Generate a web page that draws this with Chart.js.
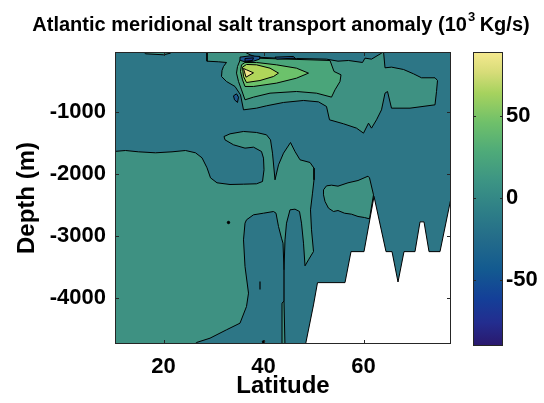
<!DOCTYPE html>
<html>
<head>
<meta charset="utf-8">
<script src="https://cdn.jsdelivr.net/npm/chart.js@4.4.1/dist/chart.umd.min.js"></script>
<style>
  html, body { margin: 0; padding: 0; background: #ffffff; }
  #wrap { width: 544px; height: 403px; position: relative; }
</style>
</head>
<body>
<div id="wrap"><canvas id="c" width="544" height="403"></canvas></div>
<script>
// ---------- axes / colour scale ----------
const latRange = [10.3, 77.5];
const depthRange = [-4750, -40];
const latTicks = [20, 40, 60];
const depthTicks = [-4000, -3000, -2000, -1000];
const cbRange = [-89, 89];
const cbTicks = [-50, 0, 50];

// contour levels (lower bound of each filled band) and their fill colours
const levels = [-60, -40, -20, 0, 20, 40, 60, 80];
const levelColors = ['#1d3a85', '#1f5a90', '#2d7686', '#3e9182', '#4aa57a', '#6cc26b', '#b0d65a', '#f2e48c'];

// ---------- contour regions: [latitude, depth] ----------
const bathymetry = [[48.3,-4800],[50.0,-4120],[50.8,-3760],[56.3,-3760],[57.5,-3260],[60.1,-3260],[62.1,-2370],[64.5,-3260],[65.7,-3260],[66.9,-3750],[68.1,-3260],[70.3,-3260],[71.3,-2780],[72.1,-2780],[73.1,-3260],[75.3,-3260],[78,-2200],[78,-4800]];

const deepBand0 = [[10,-1645],[12.4,-1629],[15.0,-1650],[18.4,-1666],[21.7,-1650],[24.4,-1629],[26.4,-1666],[27.7,-1747],[28.7,-1908],[29.4,-2070],[30.7,-2150],[33.3,-2177],[36.0,-2172],[38.6,-2166],[39.8,-2129],[40.1,-1940],[40.0,-1752],[39.6,-1645],[38.0,-1575],[36.3,-1591],[34.0,-1537],[32.3,-1457],[32.1,-1403],[33.3,-1360],[36.0,-1322],[38.6,-1338],[40.6,-1376],[41.4,-1457],[41.8,-1672],[42.3,-2102],[43.0,-1860],[44.0,-1672],[45.4,-1500],[46.3,-1645],[47.3,-1779],[49.3,-1822],[50.1,-1914],[50.1,-2102],[49.8,-2317],[49.4,-2586],[49.6,-2908],[50.0,-3258],[49.0,-3392],[48.3,-3489],[48.0,-3124],[47.6,-2801],[47.2,-2613],[46.3,-2575],[45.3,-2586],[44.6,-2801],[44.3,-3070],[44.1,-3554],[43.9,-3124],[43.6,-3043],[43.0,-2855],[42.5,-2640],[42.0,-2613],[40.0,-2640],[38.0,-2666],[36.6,-2747],[36.3,-2801],[36.0,-3070],[36.3,-3500],[37.0,-3930],[36.6,-4145],[35.3,-4414],[32.6,-4521],[29.3,-4656],[26.6,-4726],[25.6,-4800],[10,-4800]];

const bottomStrip0 = [[43.7,-4090],[44.1,-4060],[44.3,-4800],[43.7,-4800]];

const midIsland0 = [[52.0,-2263],[52.6,-2199],[53.6,-2188],[54.9,-2204],[56.9,-2150],[58.9,-2113],[60.9,-2043],[61.2,-2070],[62.0,-2344],[61.2,-2731],[60.2,-2710],[58.9,-2693],[57.6,-2656],[56.2,-2640],[54.9,-2597],[54.0,-2613],[53.0,-2559],[52.3,-2451],[52.0,-2344]];

const upperBand0 = [[28.7,-30],[28.7,-188],[31.0,-198],[32.6,-209],[32.0,-274],[31.7,-338],[31.6,-435],[32.6,-516],[34.3,-596],[35.4,-731],[36.0,-973],[38.6,-946],[40.6,-908],[44.0,-854],[48.0,-822],[51.0,-844],[52.6,-919],[53.2,-1134],[56.0,-1198],[58.6,-1268],[60.0,-1349],[61.0,-1188],[61.6,-1268],[62.6,-1134],[63.6,-973],[64.3,-704],[64.8,-677],[65.6,-946],[69.3,-946],[74.3,-892],[74.6,-677],[74.8,-500],[74.3,-456],[71.6,-456],[70.0,-392],[68.0,-322],[65.6,-284],[64.3,-295],[64.0,-30],[63.6,-59],[61.6,-155],[60.3,-139],[59.8,-209],[57.0,-177],[54.9,-188],[52.6,-155],[46.6,-145],[42.6,-139],[38.6,-123],[37.3,-85],[36.0,-30]];

const topSliver0 = [[16.0,-30],[16.4,-69],[20.0,-85],[21.4,-59],[21.6,-30]];

const core20 = [[35.4,-155],[34.8,-274],[34.6,-381],[35.0,-516],[35.6,-650],[36.3,-811],[38.0,-768],[41.3,-704],[46.6,-677],[50.6,-704],[53.6,-768],[54.3,-650],[55.3,-516],[55.5,-408],[54.1,-354],[53.3,-177],[49.3,-166],[42.6,-150],[38.6,-139],[36.6,-139]];
const core40 = [[35.6,-247],[35.4,-354],[35.8,-489],[36.3,-596],[38.0,-596],[42.6,-542],[46.6,-462],[49.0,-381],[46.6,-301],[42.6,-247],[38.6,-209],[36.3,-209]];
const core60 = [[35.8,-284],[36.0,-435],[36.6,-532],[39.3,-500],[42.0,-435],[43.0,-381],[41.3,-301],[38.6,-247],[36.6,-241]];
const core80 = [[36.0,-306],[36.5,-446],[38.0,-376],[36.6,-327]];

const blobA40 = [[35.3,-123],[37.3,-102],[39.3,-112],[39.2,-155],[38.0,-188],[36.3,-198],[35.4,-177]];
const blobA60 = [[36.3,-145],[38.0,-134],[37.8,-177],[36.5,-188]];
const blobB40 = [[42.3,-123],[46.0,-112],[46.3,-139],[42.6,-155]];
const blobC40 = [[34.0,-747],[34.6,-715],[35.0,-768],[34.8,-854],[34.2,-811]];

const thinLineA = [[44.1,-3554],[44.1,-4060]];
const thinLineB = [[39.3,-3740],[39.3,-3870]];
const specks = [[33.0,-2790],[40.0,-4715]];

// ---------- build datasets (painter's order: first = bottom) ----------
const colorOf = lv => levelColors[levels.indexOf(lv)];
const toXY = arr => arr.map(p => ({x: p[0], y: p[1]}));
const closed = arr => toXY(arr.concat([arr[0]]));

const layers = [
  {pts: deepBand0, fill: colorOf(0)},
  {pts: bottomStrip0, fill: colorOf(0)},
  {pts: midIsland0, fill: colorOf(0)},
  {pts: upperBand0, fill: colorOf(0)},
  {pts: topSliver0, fill: colorOf(0)},
  {pts: core20, fill: colorOf(20)},
  {pts: core40, fill: colorOf(40)},
  {pts: core60, fill: colorOf(60)},
  {pts: core80, fill: colorOf(80)},
  {pts: blobA40, fill: colorOf(-40)},
  {pts: blobA60, fill: colorOf(-60)},
  {pts: blobB40, fill: colorOf(-40)},
  {pts: blobC40, fill: colorOf(-40)},
  {pts: bathymetry, fill: '#ffffff'}
];

const datasets = layers.map(l => ({
  data: closed(l.pts),
  backgroundColor: l.fill,
  borderColor: '#000000',
  borderWidth: 1,
  fill: 'shape',
  pointRadius: 0,
  tension: 0,
  showLine: true
}));
[thinLineA, thinLineB].forEach(a => datasets.push({
  data: toXY(a), borderColor: '#000000', borderWidth: 1.2, fill: false, pointRadius: 0, showLine: true
}));
datasets.push({
  data: toXY(specks), borderColor: '#000', backgroundColor: '#000', pointRadius: 1.2, showLine: false, fill: false
});
// Chart.js draws highest "order" first: give the bottom layer the highest order
datasets.forEach((d, i) => { d.order = datasets.length - i; });

const FONT = "'Liberation Sans', Arial, sans-serif";
const zeroPad = s => { s.paddingTop = 0; s.paddingBottom = 0; s.paddingLeft = 0; s.paddingRight = 0; };

const plotBackground = {
  id: 'plotBackground',
  beforeDatasetsDraw(chart) {
    const a = chart.chartArea, ctx = chart.ctx;
    ctx.save();
    ctx.fillStyle = colorOf(-20);
    ctx.fillRect(a.left, a.top, a.right - a.left, a.bottom - a.top);
    ctx.restore();
  }
};

const frameAndTicks = {
  id: 'frameAndTicks',
  afterDatasetsDraw(chart) {
    const a = chart.chartArea, ctx = chart.ctx;
    const xs = chart.scales.x, ys = chart.scales.y;
    ctx.save();
    ctx.strokeStyle = '#262626';
    ctx.lineWidth = 1;
    ctx.strokeRect(a.left + 0.5, a.top + 0.5, a.right - a.left - 1, a.bottom - a.top - 1);
    ctx.beginPath();
    latTicks.forEach(v => {
      const px = Math.round(xs.getPixelForValue(v)) + 0.5;
      ctx.moveTo(px, a.bottom); ctx.lineTo(px, a.bottom - 4);
      ctx.moveTo(px, a.top); ctx.lineTo(px, a.top + 4);
    });
    depthTicks.forEach(v => {
      const py = Math.round(ys.getPixelForValue(v)) + 0.5;
      ctx.moveTo(a.left, py); ctx.lineTo(a.left + 4, py);
      ctx.moveTo(a.right, py); ctx.lineTo(a.right - 4, py);
    });
    ctx.stroke();
    ctx.restore();
  }
};

const colorbar = {
  id: 'colorbar',
  afterDraw(chart) {
    const s = chart.scales.cb, ctx = chart.ctx;
    const x0 = s.left + 22, w = 30;
    const yTop = s.getPixelForValue(cbRange[1]);
    const yBot = s.getPixelForValue(cbRange[0]) + 2;
    const g = ctx.createLinearGradient(0, yBot, 0, yTop);
    const stops = [
      [0.00, '#2a186c'], [0.08, '#232d8f'], [0.16, '#143f98'], [0.26, '#135a90'],
      [0.36, '#236b8a'], [0.46, '#2e7f87'], [0.56, '#3c9484'], [0.66, '#4eaa79'],
      [0.76, '#6fc06a'], [0.86, '#a6d25e'], [0.93, '#d6dc78'], [1.00, '#f6e98f']
    ];
    stops.forEach(s2 => g.addColorStop(s2[0], s2[1]));
    ctx.save();
    ctx.fillStyle = g;
    ctx.fillRect(x0, yTop, w, yBot - yTop);
    ctx.strokeStyle = '#262626';
    ctx.lineWidth = 1;
    ctx.strokeRect(x0 + 0.5, yTop + 0.5, w - 1, yBot - yTop - 1);
    ctx.beginPath();
    cbTicks.forEach(v => {
      const py = Math.round(s.getPixelForValue(v)) + 0.5;
      ctx.moveTo(x0, py); ctx.lineTo(x0 + 3, py);
      ctx.moveTo(x0 + w, py); ctx.lineTo(x0 + w - 3, py);
    });
    ctx.stroke();
    ctx.restore();
  }
};

const titleText = {
  id: 'titleText',
  afterDraw(chart) {
    const ctx = chart.ctx;
    const main = 'Atlantic meridional salt transport anomaly (10';
    const sup = '3';
    const tail = ' Kg/s)';
    ctx.save();
    ctx.fillStyle = '#000';
    ctx.textBaseline = 'middle';
    ctx.font = 'bold 20px ' + FONT;
    const wMain = ctx.measureText(main).width, wTail = ctx.measureText(tail).width;
    ctx.font = 'bold 13px ' + FONT;
    const wSup = ctx.measureText(sup).width;
    const total = wMain + wSup + wTail;
    let x = 281 - total / 2;
    const y = 25;
    ctx.font = 'bold 20px ' + FONT;
    ctx.fillText(main, x, y); x += wMain;
    ctx.font = 'bold 13px ' + FONT;
    ctx.fillText(sup, x + 1, y - 8); x += wSup;
    ctx.font = 'bold 20px ' + FONT;
    ctx.fillText(tail, x, y);
    ctx.restore();
  }
};

const plain = v => String(v);

new Chart(document.getElementById('c'), {
  type: 'line',
  data: { datasets },
  options: {
    responsive: false,
    animation: false,
    events: [],
    layout: { padding: { top: 52, left: 0, right: 0, bottom: 0 } },
    plugins: { legend: { display: false }, tooltip: { enabled: false }, title: { display: false } },
    scales: {
      x: {
        type: 'linear', min: latRange[0], max: latRange[1],
        afterBuildTicks: s => { s.ticks = latTicks.map(v => ({value: v})); },
        afterFit: s => { s.height = 59; zeroPad(s); },
        grid: { display: false, drawTicks: false },
        border: { display: false },
        ticks: { color: '#000', padding: 10, callback: plain, font: { family: FONT, size: 22, weight: 'bold' } },
        title: { display: true, text: 'Latitude', color: '#000', padding: { top: 0, bottom: 2 },
                 font: { family: FONT, size: 24, weight: 'bold' } }
      },
      y: {
        type: 'linear', min: depthRange[0], max: depthRange[1],
        afterBuildTicks: s => { s.ticks = depthTicks.map(v => ({value: v})); },
        afterFit: s => { s.width = 115; zeroPad(s); },
        grid: { display: false, drawTicks: false },
        border: { display: false },
        ticks: { color: '#000', padding: 9, callback: plain, font: { family: FONT, size: 22, weight: 'bold' } },
        title: { display: true, text: 'Depth (m)', color: '#000', padding: { top: 13, bottom: 0 },
                 font: { family: FONT, size: 24, weight: 'bold' } }
      },
      cb: {
        type: 'linear', position: 'right', min: cbRange[0], max: cbRange[1],
        afterBuildTicks: s => { s.ticks = cbTicks.map(v => ({value: v})); },
        afterFit: s => { s.width = 93; zeroPad(s); },
        grid: { display: false, drawTicks: false },
        border: { display: false },
        ticks: { color: '#000', padding: 55, callback: plain, font: { family: FONT, size: 22, weight: 'bold' } }
      }
    }
  },
  plugins: [plotBackground, frameAndTicks, colorbar, titleText]
});
</script>
</body>
</html>
